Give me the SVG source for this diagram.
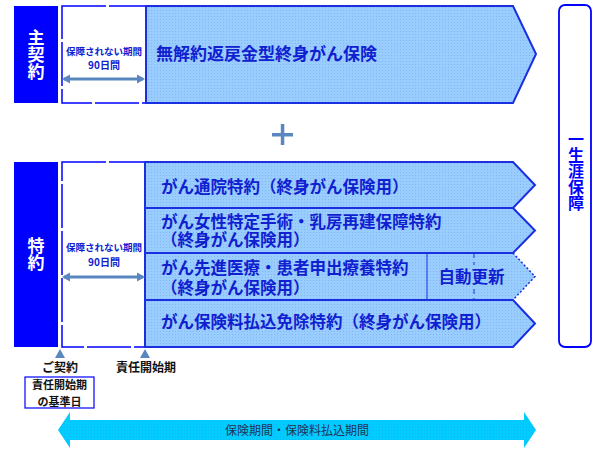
<svg xmlns="http://www.w3.org/2000/svg" width="612" height="466" viewBox="0 0 612 466">
<defs>
<style>
.jp{font-family:"Noto Sans CJK JP","Noto Sans",sans-serif;}
.lbl{fill:#ffffff;font-weight:bold;font-size:17px;writing-mode:vertical-rl;}
.row{fill:#99ccff;stroke:#1a2fe0;stroke-width:2;}
.rowt{fill:#1020d0;font-weight:bold;font-size:16.5px;}
.gap{fill:#ffffff;stroke:#0000ff;stroke-width:1.5;stroke-dasharray:44 3;}
.small{fill:#1020d0;font-weight:bold;font-size:9.5px;text-anchor:middle;}
.blk{fill:#111111;font-weight:bold;text-anchor:middle;}
.steel{fill:#5b87c0;}
</style>
<pattern id="dots" width="3" height="3" patternUnits="userSpaceOnUse">
<rect width="3" height="3" fill="#99ccff"/>
<rect x="1" y="1" width="1" height="1" fill="#86b6ee"/>
</pattern>
<pattern id="cdots" width="3" height="3" patternUnits="userSpaceOnUse">
<rect width="3" height="3" fill="#00ccff"/>
<rect x="1" y="1" width="1" height="1" fill="#10b8ee"/>
</pattern>
</defs>
<rect width="612" height="466" fill="#ffffff"/>

<g id="main-label">
<rect x="14" y="6" width="44" height="97" fill="#0000ff"/>
<text class="jp lbl" x="36" y="29">主契約</text>
</g>

<g id="main-gap">
<rect class="gap" x="62" y="6" width="84" height="97"/>
<text class="jp small" x="104" y="55">保障されない期間</text>
<text class="jp small" x="104" y="69" style="font-size:10px">90日間</text>
</g>

<g id="main-product">
<path d="M146,6 L513,6 L536,54 L513,103 L146,103 Z" class="row" style="fill:url(#dots)"/>
<text class="jp rowt" x="156" y="60" style="font-size:17px">無解約返戻金型終身がん保険</text>
</g>

<g id="plus">
<rect x="272" y="133" width="21" height="3.5" class="steel"/>
<rect x="280.8" y="124" width="3.5" height="21" class="steel"/>
</g>

<g id="rider-label">
<rect x="14" y="162" width="44" height="185" fill="#0000ff"/>
<text class="jp lbl" x="36" y="237">特約</text>
</g>

<g id="rider-gap">
<rect class="gap" x="62" y="162" width="83" height="185"/>
<text class="jp small" x="104" y="251">保障されない期間</text>
<text class="jp small" x="104" y="266" style="font-size:10px">90日間</text>
</g>

<g id="row1">
<path d="M145,162 L513,162 L535,185 L513,208 L145,208 Z" class="row" style="fill:url(#dots)"/>
<text class="jp rowt" x="161" y="193">がん通院特約（終身がん保険用）</text>
</g>

<g id="row2">
<path d="M145,208 L513,208 L535,230.5 L513,253 L145,253 Z" class="row" style="fill:url(#dots)"/>
<text class="jp rowt"><tspan x="161" y="228">がん女性特定手術・乳房再建保障特約</tspan><tspan x="161" y="246">（終身がん保険用）</tspan></text>
</g>

<g id="row3">
<path d="M145,253 L513,253 L535,276.5 L513,300 L145,300 Z" fill="url(#dots)"/>
<path d="M513,300 L145,300 L145,253 L513,253" fill="none" stroke="#1a2fe0" stroke-width="2"/>
<path d="M513,253 L535,276.5 L513,300" fill="none" stroke="#1a2fe0" stroke-width="1.5" stroke-dasharray="2 2"/>
<line x1="427" y1="253" x2="427" y2="300" stroke="#1a2fe0" stroke-width="1"/>
<line x1="474" y1="253" x2="474" y2="300" stroke="#1a2fe0" stroke-width="1" stroke-dasharray="5 4"/>
<text class="jp rowt"><tspan x="161" y="274">がん先進医療・患者申出療養特約</tspan><tspan x="161" y="294">（終身がん保険用）</tspan></text>
<rect x="436" y="265" width="72" height="22" fill="url(#dots)"/>
<text class="jp rowt" x="471.5" y="283" text-anchor="middle">自動更新</text>
</g>

<g id="row4">
<path d="M145,300 L513,300 L535,323.5 L513,347 L145,347 Z" class="row" style="fill:url(#dots)"/>
<text class="jp rowt" x="161" y="328">がん保険料払込免除特約（終身がん保険用）</text>
</g>

<g id="lifetime">
<rect x="559" y="5" width="32" height="342" rx="6" fill="#ffffff" stroke="#0000ff" stroke-width="1.8"/>
<text class="jp" x="576" y="131" fill="#0000ff" font-weight="bold" font-size="16" style="writing-mode:vertical-rl">一生涯保障</text>
</g>

<g id="contract-marker">
<path d="M60,349 L65,358 L55,358 Z" class="steel"/>
<text class="jp blk" x="60" y="372" font-size="12">ご契約</text>
</g>

<g id="start-marker">
<path d="M145,349 L150,358 L140,358 Z" class="steel"/>
<text class="jp blk" x="146" y="372" font-size="12">責任開始期</text>
</g>

<g id="base-date">
<rect x="25" y="377" width="69" height="31" fill="#ffffff" stroke="#0000ff" stroke-width="1.2"/>
<text class="jp blk" font-size="11"><tspan x="59.5" y="389">責任開始期</tspan><tspan x="59.5" y="406">の基準日</tspan></text>
</g>

<g id="period">
<path d="M58,430 L70,412 L70,420 L524,420 L524,412 L536,430 L524,448 L524,440 L70,440 L70,448 Z" fill="url(#cdots)"/>
<text class="jp" x="297" y="435" fill="#223355" font-size="12" text-anchor="middle">保険期間・保険料払込期間</text>
</g>

<g id="connectors">
<path d="M64,79 L143,79" stroke="#5b87c0" stroke-width="3"/>
<path d="M62,79 L70,74.5 L70,83.5 Z" class="steel"/>
<path d="M145,79 L137,74.5 L137,83.5 Z" class="steel"/>
<path d="M64,277 L143,277" stroke="#5b87c0" stroke-width="3"/>
<path d="M62,277 L70,272.5 L70,281.5 Z" class="steel"/>
<path d="M145,277 L137,272.5 L137,281.5 Z" class="steel"/>
</g>
</svg>
